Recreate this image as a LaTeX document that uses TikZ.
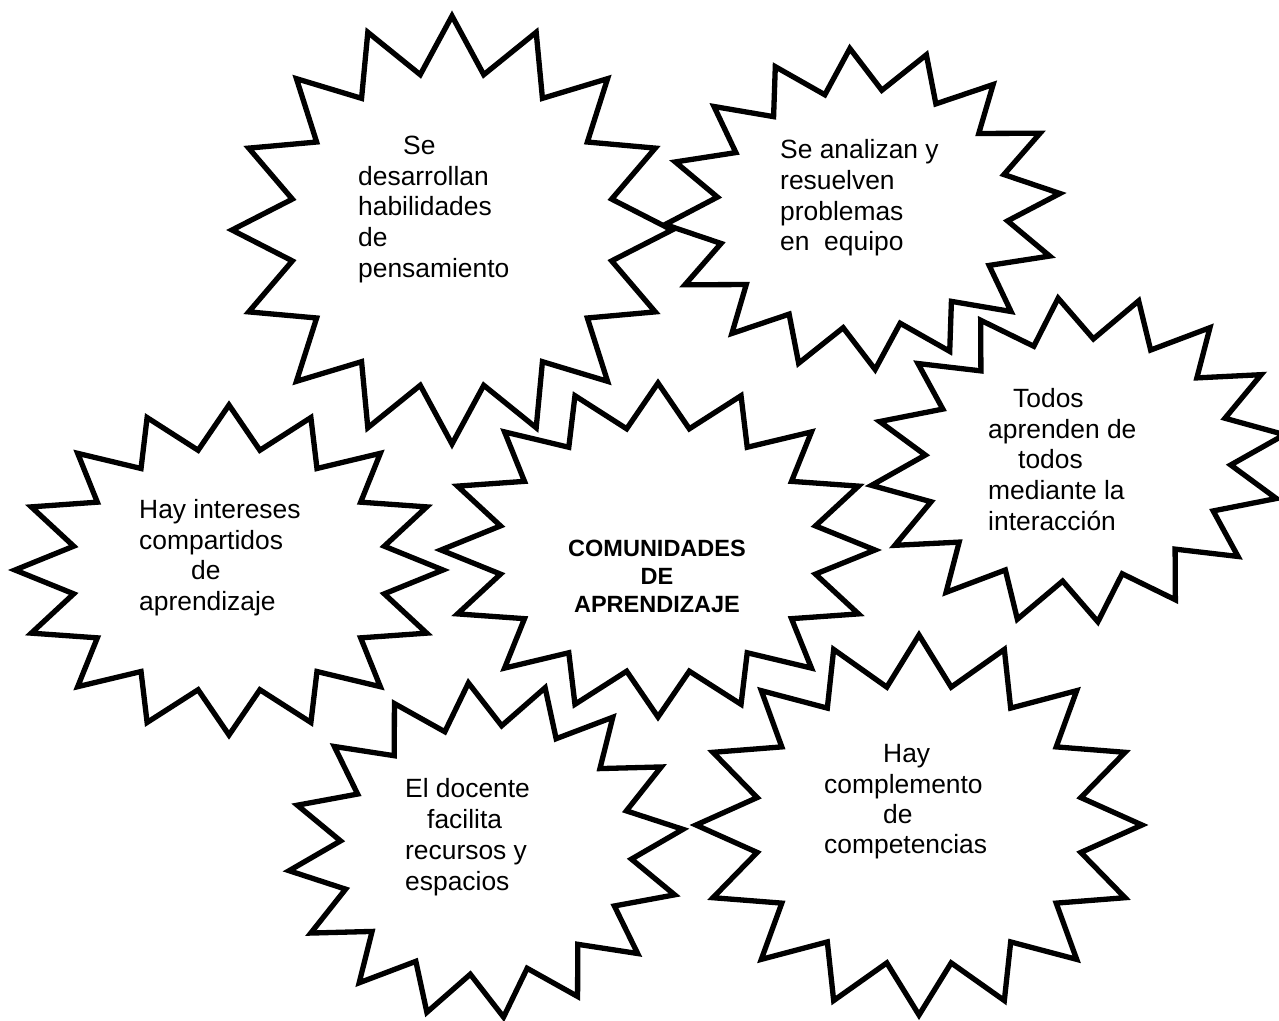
\documentclass[tikz,border=0pt]{standalone}
\usepackage{fontspec}
\setmainfont{Liberation Sans}
% #1 cx, #2 cy, #3 rx, #4 ry, #5 rotation
\newcommand{\starburst}[5]{%
  \draw[burst, shift={(#1,#2)}, rotate=#5] (0,{-#4})
    \foreach \k in {1,...,31}{ -- ({#3*(1-0.26*mod(\k,2))*sin(\k*11.25)},{-#4*(1-0.26*mod(\k,2))*cos(\k*11.25)}) } -- cycle;
}
\begin{document}
\begin{tikzpicture}[x=1pt,y=-1pt,
  burst/.style={draw=black, line width=5.3pt, fill=white, line join=miter},
  txt/.style={anchor=base west, inner sep=0pt, font=\fontsize{26.4}{30.8}\selectfont},
  ctxt/.style={anchor=base, inner sep=0pt, font=\bfseries\fontsize{23.5}{28}\selectfont}]
\useasboundingbox (0,0) rectangle (1279,1020);

\starburst{452}{230}{220}{214}{0}
\starburst{862.5}{209}{198}{161}{4.5}
\starburst{658}{550}{217}{167}{0}
\starburst{229}{570}{214}{165}{0}
\starburst{919}{825}{223}{190}{0}
\starburst{486}{850}{198}{168}{6}
\starburst{1078}{460}{208}{163}{7}

% star 1
\node[txt] (s1a) at (403,154) {Se};
\node[txt] (s1b) at (358,185) {desarrollan};
\node[txt] (s1c) at (358,215) {habilidades};
\node[txt] (s1d) at (358,246) {de};
\node[txt] (s1e) at (358,277) {pensamiento};
% star 2
\node[txt] (s2a) at (780,158) {Se analizan y};
\node[txt] (s2b) at (780,189) {resuelven};
\node[txt] (s2c) at (780,220) {problemas};
\node[txt] (s2d) at (780,250) {en\ \ equipo};
% star 7
\node[txt] (s7a) at (1013,407) {Todos};
\node[txt] (s7b) at (988,438) {aprenden de};
\node[txt] (s7c) at (1018,468) {todos};
\node[txt] (s7d) at (988,499) {mediante la};
\node[txt] (s7e) at (988,530) {interacción};
% star 4
\node[txt] (s4a) at (139,518) {Hay intereses};
\node[txt] (s4b) at (139,549) {compartidos};
\node[txt] (s4c) at (191,579) {de};
\node[txt] (s4d) at (139,610) {aprendizaje};
% centre
\node[ctxt] (s3a) at (657,556) {COMUNIDADES};
\node[ctxt] (s3b) at (657,584) {DE};
\node[ctxt] (s3c) at (657,612) {APRENDIZAJE};
% star 6
\node[txt] (s6a) at (405,797) {El docente};
\node[txt] (s6b) at (427,828) {facilita};
\node[txt] (s6c) at (405,859) {recursos y};
\node[txt] (s6d) at (405,890) {espacios};
% star 5
\node[txt] (s5a) at (883,762) {Hay};
\node[txt] (s5b) at (824,793) {complemento};
\node[txt] (s5c) at (883,823) {de};
\node[txt] (s5d) at (824,853) {competencias};
\end{tikzpicture}
\end{document}
